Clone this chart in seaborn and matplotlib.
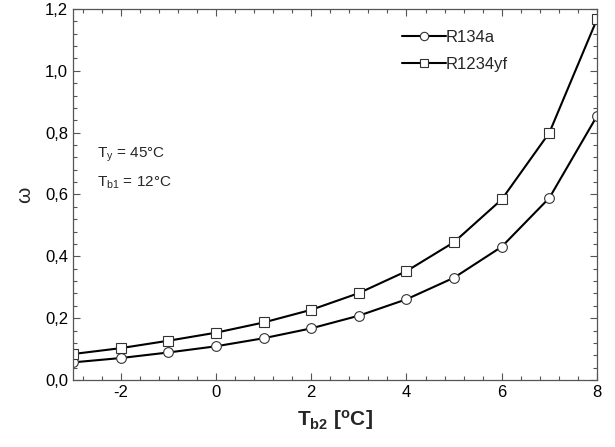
import numpy as np
import pandas as pd
import matplotlib
matplotlib.use("Agg")
import matplotlib.pyplot as plt
from matplotlib.ticker import MultipleLocator, FuncFormatter
from matplotlib.lines import Line2D
import seaborn as sns

t_b2 = [-3, -2, -1, 0, 1, 2, 3, 4, 5, 6, 7, 8]
r134a = [0.057, 0.071, 0.089, 0.109, 0.135, 0.167, 0.208, 0.261, 0.331, 0.431, 0.589, 0.854]
r1234yf = [0.084, 0.103, 0.127, 0.153, 0.186, 0.227, 0.281, 0.352, 0.446, 0.584, 0.800, 1.167]
series_names = ["R134a", "R1234yf"]

df = pd.DataFrame({
    "T": t_b2 * 2,
    "w": r134a + r1234yf,
    "fluid": [series_names[0]] * len(t_b2) + [series_names[1]] * len(t_b2),
})

sns.set_style("ticks")
plt.rcParams["font.family"] = ["Liberation Sans", "DejaVu Sans"]
plt.rcParams["mathtext.fontset"] = "custom"
plt.rcParams["mathtext.rm"] = "Liberation Sans"
plt.rcParams["mathtext.it"] = "Liberation Sans"
plt.rcParams["mathtext.bf"] = "Liberation Sans:bold"

fig = plt.figure(figsize=(6.15, 4.47), dpi=100)
ax = fig.add_axes([73 / 615, 1 - 380 / 447, (597 - 73) / 615, (380 - 9) / 447])

sns.lineplot(data=df, x="T", y="w", hue="fluid", style="fluid",
             markers={"R134a": "o", "R1234yf": "s"}, dashes=False,
             palette={"R134a": "black", "R1234yf": "black"},
             linewidth=1.5, markersize=7, markerfacecolor="white",
             markeredgecolor="#333333", markeredgewidth=0.8, ax=ax, legend=False)

handles = [
    Line2D([], [], color="black", lw=1.5, marker="o", markersize=6,
           markerfacecolor="white", markeredgecolor="#333333", markeredgewidth=0.8),
    Line2D([], [], color="black", lw=1.5, marker="s", markersize=6,
           markerfacecolor="white", markeredgecolor="#333333", markeredgewidth=0.8),
]
ax.legend(handles, series_names, loc="upper left", bbox_to_anchor=(0.6, 0.985),
          frameon=False, fontsize=12, handlelength=2.6, handletextpad=0.0,
          labelspacing=0.75, numpoints=1)

ax.set_xlim(-3, 8)
ax.set_ylim(0, 1.2)
ax.xaxis.set_major_locator(MultipleLocator(2))
ax.xaxis.set_minor_locator(MultipleLocator(0.4))
ax.yaxis.set_major_locator(MultipleLocator(0.2))
ax.yaxis.set_minor_locator(MultipleLocator(0.04))
ax.yaxis.set_major_formatter(FuncFormatter(lambda v, p: f"{v:.1f}".replace(".", ",")))
ax.xaxis.set_major_formatter(FuncFormatter(lambda v, p: f"{v:.0f}"))

ax.tick_params(which="both", direction="in", top=True, right=True, colors="#555555",
               labelcolor="black", labelsize=12)
ax.tick_params(which="major", length=5, width=0.8)
ax.tick_params(which="minor", length=3, width=0.8)
for s in ax.spines.values():
    s.set_color("#555555")
    s.set_linewidth(0.9)

ax.set_xlabel(r"$\mathbf{T_{b2}}$ [$\mathbf{^{o}}$C]", fontsize=15, fontweight="bold", labelpad=6)
ax.set_ylabel("ω", fontsize=15, labelpad=8)

ax.text(0.045, 0.6, r"T$_{\mathrm{y}}$ = 45°C", transform=ax.transAxes, fontsize=11)
ax.text(0.045, 0.52, r"T$_{\mathrm{b1}}$ = 12°C", transform=ax.transAxes, fontsize=11)

fig.savefig("out.png", dpi=100)
